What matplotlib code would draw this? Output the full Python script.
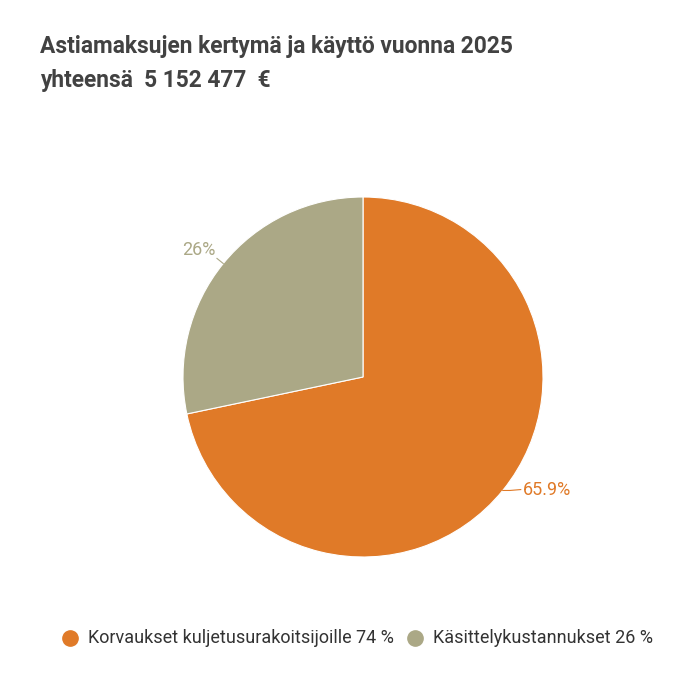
import matplotlib
matplotlib.use("Agg")
import matplotlib.pyplot as plt
import numpy as np
from matplotlib.lines import Line2D

title_line1 = "Astiamaksujen kertymä ja käyttö vuonna 2025"
title_line2 = "yhteensä  5 152 477  €"
categories = ["Korvaukset kuljetusurakoitsijoille 74 %", "Käsittelykustannukset 26 %"]
values = [65.9, 26]
value_labels = ["65.9%", "26%"]
colors = ["#E07A28", "#ABA886"]

plt.rcParams['font.family'] = ['Roboto', 'DejaVu Sans']

fig = plt.figure(figsize=(7, 7), dpi=100)
fig.patch.set_facecolor("white")

fig.text(40/700, 1 - 47/700, title_line1, fontsize=16.4, fontweight='bold', color="#424242", va='center', ha='left')
fig.text(40/700, 1 - 81/700, title_line2, fontsize=16.4, fontweight='bold', color="#424242", va='center', ha='left')

cx, cy, r = 363/700, 1 - 377/700, 180/700
ax = fig.add_axes([cx - r, cy - r, 2*r, 2*r])
wedges, _ = ax.pie(values, colors=colors, startangle=90, counterclock=False,
                   radius=1.0, wedgeprops=dict(edgecolor='white', linewidth=0.8))
ax.set_xlim(-1, 1)
ax.set_ylim(-1, 1)
ax.set_aspect('equal')
ax.axis('off')

for w, lab, col in zip(wedges, value_labels, colors):
    ang = np.deg2rad((w.theta1 + w.theta2) / 2)
    x, y = np.cos(ang), np.sin(ang)
    if x > 0:
        xe, ye = x + 0.10, y + 0.005
        ax.plot([x, x + 0.04, xe], [y, y + 0.0, ye], color=col, lw=0.8, clip_on=False)
        ax.text(xe + 0.012, ye - 0.005, lab, color=col, fontsize=13, ha='left', va='center')
    else:
        xe, ye = 1.045 * x, 1.045 * y
        ax.plot([x, xe], [y, ye], color=col, lw=0.8, clip_on=False)
        ax.text(xe - 0.01, ye + 0.045, lab, color=col, fontsize=13, ha='right', va='center')

# legend (manually positioned entries)
leg_y = 1 - 638/700
marker_x = [70/700, 415/700]
text_x = [88/700, 433/700]
for mx, tx, c, lab in zip(marker_x, text_x, colors, categories):
    fig.add_artist(Line2D([mx], [leg_y], marker='o', linestyle='none', markersize=11,
                          markerfacecolor=c, markeredgecolor=c, transform=fig.transFigure))
    fig.text(tx, leg_y, lab, fontsize=13, color="#333333", ha='left', va='center')

fig.savefig("out.png", dpi=100, facecolor="white")
